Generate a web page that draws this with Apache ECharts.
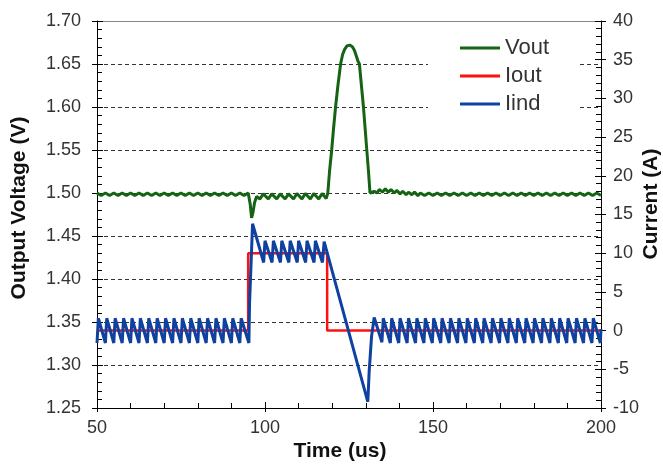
<!DOCTYPE html>
<html>
<head>
<meta charset="utf-8">
<script src="https://cdn.jsdelivr.net/npm/echarts@6/dist/echarts.min.js"></script>
<style>
html,body{margin:0;padding:0;background:#fff;}
#chart{width:663px;height:464px;}
</style>
</head>
<body>
<div id="chart"></div>
<script>
// ---- data ----
var seriesNames = ['Vout', 'Iout', 'Iind'];
var axisTitles = {x: 'Time (us)', left: 'Output Voltage (V)', right: 'Current (A)'};
var xTicks = [50, 100, 150, 200];
var leftTicks = [1.25, 1.30, 1.35, 1.40, 1.45, 1.50, 1.55, 1.60, 1.65, 1.70];
var rightTicks = [-10, -5, 0, 5, 10, 15, 20, 25, 30, 35, 40];

// Output voltage (V) vs time (us)
var vout = [
  [50,1.500],[51.25,1.497],[52.5,1.500],[53.75,1.497],[55,1.500],[56.25,1.497],[57.5,1.500],[58.75,1.497],
  [60,1.500],[61.25,1.497],[62.5,1.500],[63.75,1.497],[65,1.500],[66.25,1.497],[67.5,1.500],[68.75,1.497],
  [70,1.500],[71.25,1.497],[72.5,1.500],[73.75,1.497],[75,1.500],[76.25,1.497],[77.5,1.500],[78.75,1.497],
  [80,1.500],[81.25,1.497],[82.5,1.500],[83.75,1.497],[85,1.500],[86.25,1.497],[87.5,1.500],[88.75,1.497],
  [90,1.500],[91.25,1.497],[92.5,1.500],[93.75,1.497],[95,1.500],
  [95.3,1.499],[95.6,1.487],[96.0,1.471],[96.4,1.477],[96.9,1.489],[97.5,1.496],
  [98.5,1.493],[99.5,1.499],[101,1.493],[102,1.499],[103.5,1.493],[104.5,1.499],[106,1.493],[107,1.499],
  [108.5,1.493],[109.5,1.4995],[111,1.493],[112,1.4995],[113.5,1.493],[114.5,1.4995],[116,1.493],[117,1.4995],
  [118.2,1.4935],[118.7,1.500],
  [119.2,1.525],[119.85,1.550],[120.4,1.575],[121.0,1.600],[121.7,1.625],[122.5,1.650],[123.1,1.661],
  [123.7,1.667],[124.4,1.671],[125.2,1.672],[126.0,1.670],[126.6,1.666],[127.2,1.659],[127.7,1.653],
  [128.1,1.650],[128.7,1.625],
  [129.3,1.600],[129.8,1.575],[130.3,1.550],[130.8,1.525],[131.25,1.500],[131.8,1.498],
  [132.5,1.502],[133.3,1.500],[134.0,1.504],[135.0,1.501],[135.8,1.505],[136.7,1.501],[137.5,1.504],
  [138.5,1.500],[139.2,1.503],[140.2,1.499],[141.0,1.502],[142.0,1.498],[142.7,1.501],[143.7,1.498],
  [144.5,1.501],[145.5,1.497],
  [146.25,1.500],[147.5,1.497],[148.75,1.500],[150,1.497],[151.25,1.500],[152.5,1.497],[153.75,1.500],
  [155,1.497],[156.25,1.500],[157.5,1.497],[158.75,1.500],[160,1.497],[161.25,1.500],[162.5,1.497],
  [163.75,1.500],[165,1.497],[166.25,1.500],[167.5,1.497],[168.75,1.500],[170,1.497],[171.25,1.500],
  [172.5,1.497],[173.75,1.500],[175,1.497],[176.25,1.500],[177.5,1.497],[178.75,1.500],[180,1.497],
  [181.25,1.500],[182.5,1.497],[183.75,1.500],[185,1.497],[186.25,1.500],[187.5,1.497],[188.75,1.500],
  [190,1.497],[191.25,1.500],[192.5,1.497],[193.75,1.500],[195,1.497],[196.25,1.500],[197.5,1.497],
  [198.75,1.500],[200,1.497]
];

// Output current (A)
var iout = [[50,0],[95,0],[95,10],[118.5,10],[118.5,0],[200,0]];

// Inductor current (A)
var iind = [
  [50,-1.6],[50.4,1.6],[52.5,-1.6],[52.9,1.6],[55,-1.6],[55.4,1.6],[57.5,-1.6],[57.9,1.6],
  [60,-1.6],[60.4,1.6],[62.5,-1.6],[62.9,1.6],[65,-1.6],[65.4,1.6],[67.5,-1.6],[67.9,1.6],
  [70,-1.6],[70.4,1.6],[72.5,-1.6],[72.9,1.6],[75,-1.6],[75.4,1.6],[77.5,-1.6],[77.9,1.6],
  [80,-1.6],[80.4,1.6],[82.5,-1.6],[82.9,1.6],[85,-1.6],[85.4,1.6],[87.5,-1.6],[87.9,1.6],
  [90,-1.6],[90.4,1.6],[92.5,-1.6],[92.9,1.6],[95.2,-1.6],
  [95.4,3.5],[96.3,13.8],[99.6,8.8],[100.0,11.6],[102.1,8.8],[102.5,11.6],[104.6,8.8],[105.0,11.6],
  [107.1,8.8],[107.5,11.6],[109.6,8.8],[110.0,11.6],[112.1,8.8],[112.5,11.6],[114.6,8.8],[115.0,11.6],
  [117.1,8.8],[117.6,11.5],
  [130.6,-9.2],[131.0,-5.3],[131.7,-0.8],[132.5,1.7],
  [134.8,-1.5],[135.2,1.6],[137.3,-1.6],[137.7,1.6],[139.8,-1.6],[140.2,1.6],[142.3,-1.6],[142.7,1.6],
  [144.8,-1.6],[145.2,1.6],[147.3,-1.6],[147.7,1.6],[149.8,-1.6],[150.2,1.6],[152.3,-1.6],[152.7,1.6],
  [154.8,-1.6],[155.2,1.6],[157.3,-1.6],[157.7,1.6],[159.8,-1.6],[160.2,1.6],[162.3,-1.6],[162.7,1.6],
  [164.8,-1.6],[165.2,1.6],[167.3,-1.6],[167.7,1.6],[169.8,-1.6],[170.2,1.6],[172.3,-1.6],[172.7,1.6],
  [174.8,-1.6],[175.2,1.6],[177.3,-1.6],[177.7,1.6],[179.8,-1.6],[180.2,1.6],[182.3,-1.6],[182.7,1.6],
  [184.8,-1.6],[185.2,1.6],[187.3,-1.6],[187.7,1.6],[189.8,-1.6],[190.2,1.6],[192.3,-1.6],[192.7,1.6],
  [194.8,-1.6],[195.2,1.6],[197.3,-1.6],[197.7,1.6],[199.8,-1.6],[200,0.2]
];

// ---- chart ----
var FONT = "'Liberation Sans', Arial, sans-serif";
var chart = echarts.init(document.getElementById('chart'), null, {renderer: 'canvas'});
var xMin = xTicks[0], xMax = xTicks[xTicks.length - 1], xInt = xTicks[1] - xTicks[0];
var lMin = leftTicks[0], lMax = leftTicks[leftTicks.length - 1], lInt = 0.05;
var rMin = rightTicks[0], rMax = rightTicks[rightTicks.length - 1], rInt = rightTicks[1] - rightTicks[0];
var labelStyle = {fontFamily: FONT, fontSize: 18, color: '#333'};
var titleFont = "bold 21px 'Liberation Sans', Arial, sans-serif";

function title(text, x, y, rot) {
  return {
    type: 'text', x: x, y: y, rotation: rot, z: 10,
    style: {text: text, font: titleFont, fill: '#111', align: 'center', verticalAlign: 'middle'}
  };
}

chart.setOption({
  animation: false,
  backgroundColor: '#fff',
  grid: {left: 97, right: 62, top: 21, bottom: 56, containLabel: false, outerBoundsMode: 'none'},
  legend: {
    orient: 'vertical', left: 428, top: 29,
    padding: [8, 28, 8, 32],
    backgroundColor: '#fff',
    icon: 'rect',
    itemWidth: 40, itemHeight: 3, itemGap: 6,
    textStyle: {fontFamily: FONT, fontSize: 22, color: '#333', lineHeight: 22},
    data: seriesNames
  },
  graphic: [
    title(axisTitles.x, 340, 451, 0),
    title(axisTitles.left, 19, 208, Math.PI / 2),
    title(axisTitles.right, 651, 204, Math.PI / 2)
  ],
  xAxis: [
    {
      type: 'value', min: xMin, max: xMax, interval: xInt, position: 'bottom',
      axisLine: {show: true, onZero: false, lineStyle: {color: '#000', width: 1}},
      axisTick: {show: true, inside: true, length: 6, lineStyle: {color: '#000'}},
      minorTick: {show: true, splitNumber: 5, length: 5, lineStyle: {color: '#000'}},
      axisLabel: Object.assign({margin: 11}, labelStyle),
      splitLine: {show: false}
    },
    {
      type: 'value', min: xMin, max: xMax, interval: xInt, position: 'bottom',
      axisLine: {show: false, onZero: false},
      axisTick: {show: true, inside: false, length: 4, lineStyle: {color: '#000'}},
      axisLabel: {show: false}, splitLine: {show: false}
    },
    {
      type: 'value', min: xMin, max: xMax, position: 'top',
      axisLine: {show: true, onZero: false, lineStyle: {color: '#888', width: 1}},
      axisTick: {show: false}, axisLabel: {show: false}, splitLine: {show: false}
    }
  ],
  yAxis: [
    {
      type: 'value', min: lMin, max: lMax, interval: lInt, position: 'left',
      axisLine: {show: true, onZero: false, lineStyle: {color: '#000', width: 1}},
      axisTick: {show: true, inside: true, length: 6, lineStyle: {color: '#000'}},
      minorTick: {show: true, splitNumber: 5, length: 5, lineStyle: {color: '#000'}},
      axisLabel: Object.assign({margin: 16, formatter: function (v) { return v.toFixed(2); }}, labelStyle),
      splitLine: {show: true, lineStyle: {color: '#333', width: 1, type: [4, 3]}}
    },
    {
      type: 'value', min: rMin, max: rMax, interval: rInt, position: 'right',
      axisLine: {show: true, onZero: false, lineStyle: {color: '#000', width: 1}},
      axisTick: {show: true, inside: true, length: 6, lineStyle: {color: '#000'}},
      minorTick: {show: true, splitNumber: 5, length: 5, lineStyle: {color: '#000'}},
      axisLabel: Object.assign({margin: 12}, labelStyle),
      splitLine: {show: false}
    },
    {
      type: 'value', min: lMin, max: lMax, interval: lInt, position: 'left',
      axisLine: {show: false, onZero: false},
      axisTick: {show: true, inside: false, length: 5, lineStyle: {color: '#000'}},
      axisLabel: {show: false}, splitLine: {show: false}
    },
    {
      type: 'value', min: rMin, max: rMax, interval: rInt, position: 'right',
      axisLine: {show: false, onZero: false},
      axisTick: {show: true, inside: false, length: 5, lineStyle: {color: '#000'}},
      axisLabel: {show: false}, splitLine: {show: false}
    }
  ],
  series: [
    {
      name: seriesNames[0], type: 'line', xAxisIndex: 0, yAxisIndex: 0,
      data: vout, symbol: 'none', showSymbol: false, smooth: false,
      lineStyle: {color: '#146414', width: 3}, itemStyle: {color: '#146414'}
    },
    {
      name: seriesNames[1], type: 'line', xAxisIndex: 0, yAxisIndex: 1,
      data: iout, symbol: 'none', showSymbol: false,
      lineStyle: {color: '#ff1010', width: 2.5}, itemStyle: {color: '#ff1010'}
    },
    {
      name: seriesNames[2], type: 'line', xAxisIndex: 0, yAxisIndex: 1,
      data: iind, symbol: 'none', showSymbol: false,
      lineStyle: {color: '#0f41a0', width: 3}, itemStyle: {color: '#0f41a0'}
    }
  ]
});
</script>
</body>
</html>
